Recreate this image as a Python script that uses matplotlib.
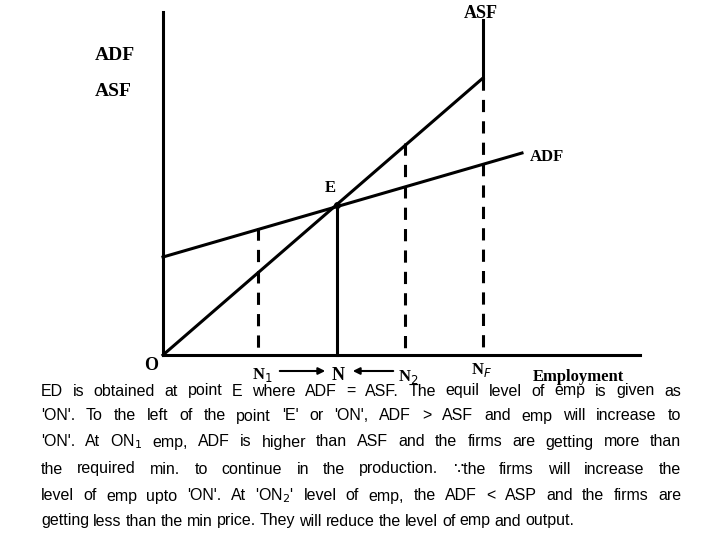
import matplotlib
matplotlib.use("Agg")
import matplotlib.pyplot as plt

# diagram geometry (pixel space of a 720x540 canvas)
origin = (163, 355)
asf_x = [163, 483]; asf_y = [355, 78]
adf_x = [163, 522]; adf_y = [257, 153]
E = (337, 205)
dashed_x = [258, 405, 483]
dashed_top = [228, 143, 78]

serif_labels = [("ADF", 115, 55, 14), ("ASF", 113, 92, 14), ("ASF", 481, 13, 13),
                ("ADF", 547, 157, 12), ("E", 330, 188, 12), ("O", 151, 365, 13),
                ("N$_1$", 262, 375, 12), ("N", 338, 375, 13), ("N$_2$", 408, 377, 12),
                ("N$_F$", 482, 370, 12), ("Employment", 578, 377, 12)]

para = [
    "ED is obtained at point E where ADF = ASF. The equil level of emp is given as",
    "'ON'. To the left of the point 'E' or 'ON', ADF > ASF and emp will increase to",
    "'ON'. At ON$_1$ emp, ADF is higher than ASF and the firms are getting more than",
    "the required min. to continue in the production. \u2235the firms will increase the",
    "level of emp upto 'ON'. At 'ON$_2$' level of emp, the ADF < ASP and the firms are",
    "getting less than the min price. They will reduce the level of emp and output.",
]
line_y = [391, 416, 442, 469, 496, 521]

fig = plt.figure(figsize=(7.2, 5.4), dpi=100)
ax = fig.add_axes([0, 0, 1, 1])
ax.set_xlim(0, 720); ax.set_ylim(540, 0); ax.axis("off")

lw = 2.2
ax.plot([163, 163], [355, 12], color="black", lw=lw)
ax.plot([163, 640], [355, 355], color="black", lw=lw)
ax.plot(asf_x, asf_y, color="black", lw=lw)
ax.plot([483, 483], [78, 20], color="black", lw=lw)
ax.plot(adf_x, adf_y, color="black", lw=lw)
ax.plot([E[0], E[0]], [E[1], 355], color="black", lw=lw)
for x, t in zip(dashed_x, dashed_top):
    ax.plot([x, x], [t, 355], color="black", lw=lw, ls=(0, (4, 3)))
ax.plot(*E, 'o', color="black", ms=4)
ax.annotate("", xy=(328, 371), xytext=(277, 371),
            arrowprops=dict(arrowstyle="-|>", color="black", lw=1.5))
ax.annotate("", xy=(350, 371), xytext=(396, 371),
            arrowprops=dict(arrowstyle="-|>", color="black", lw=1.5))
for s, x, y, fs in serif_labels:
    ax.text(x, y, s, family="Liberation Serif", fontweight="bold", fontsize=fs,
            ha="center", va="center")

# justified paragraph
fig.canvas.draw()
r = fig.canvas.get_renderer()
left, right = 41, 681
for i, (line, y) in enumerate(zip(para, line_y)):
    words = line.split(" ")
    objs = [ax.text(0, y, w, family=["Liberation Sans", "DejaVu Sans"], fontsize=11.5,
                    ha="left", va="center") for w in words]
    widths = [o.get_window_extent(r).width * 720 / fig.bbox.width for o in objs]
    total = sum(widths)
    if i < len(para) - 1:
        gap = (right - left - total) / (len(words) - 1)
    else:
        gap = 4.0
    x = left
    for o, w in zip(objs, widths):
        o.set_x(x)
        x += w + gap

fig.savefig("out.png", dpi=100)
